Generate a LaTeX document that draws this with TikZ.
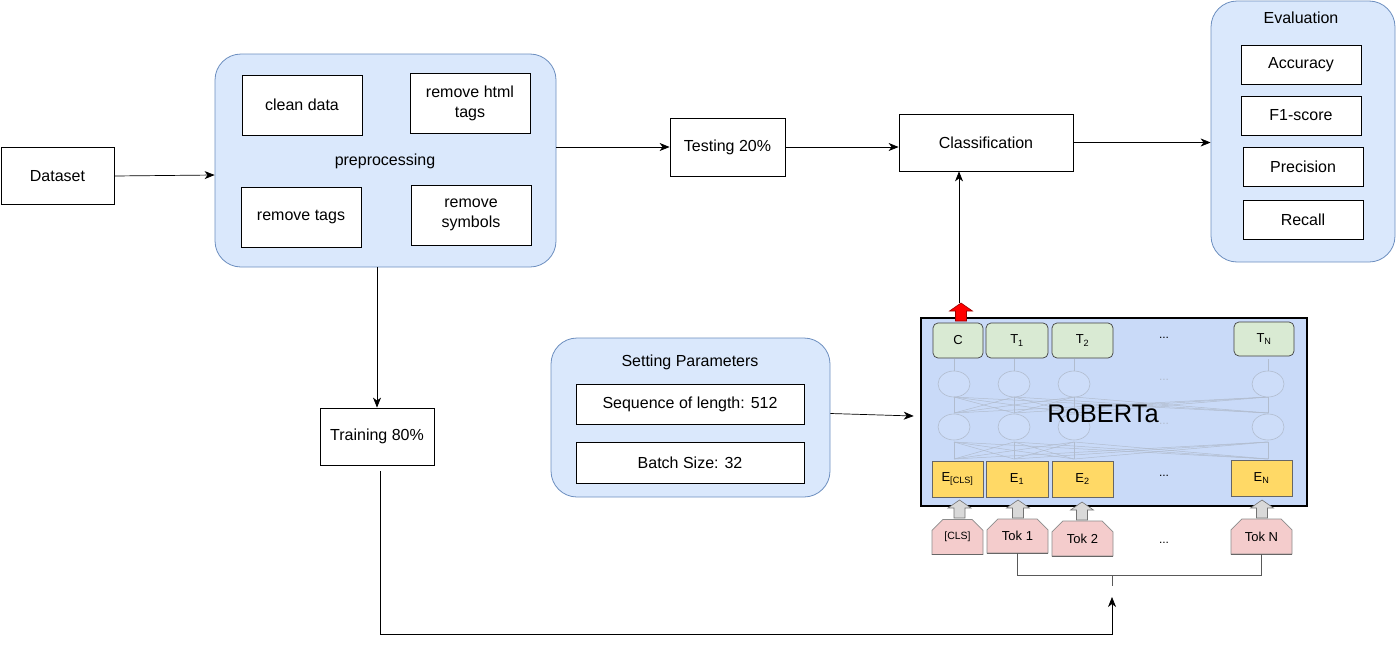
\documentclass[tikz,border=0pt]{standalone}
\usepackage{fontspec}
\setmainfont{Liberation Sans}
\usetikzlibrary{arrows.meta,shapes.misc}

\definecolor{groupfill}{HTML}{DAE8FC}
\definecolor{groupdraw}{HTML}{6C8EBF}
\definecolor{bertfill}{HTML}{C9DAF8}
\definecolor{outfill}{HTML}{D9EAD3}
\definecolor{embfill}{HTML}{FFD966}
\definecolor{tokfill}{HTML}{F4CCCC}
\definecolor{netgray}{HTML}{B1BCCE}

\tikzset{
  box/.style={draw, fill=white, line width=0.8pt, align=center, inner sep=0pt,
    font=\fontsize{16}{20}\selectfont},
  group/.style={draw=groupdraw, fill=groupfill, rounded corners=26pt, line width=0.8pt, inner sep=0pt},
  label/.style={font=\fontsize{16}{20}\selectfont, inner sep=0pt},
  arr/.style={-{Stealth[length=10pt,width=8pt,inset=3pt]}, line width=0.7pt},
  outbox/.style={draw=black!75, fill=outfill, rounded corners=5pt, line width=0.7pt,
    minimum height=35pt, inner sep=0pt, font=\fontsize{13}{15}\selectfont},
  embbox/.style={draw=black!60, fill=embfill, line width=0.7pt,
    minimum height=36pt, inner sep=0pt, font=\fontsize{13}{15}\selectfont},
  tokbox/.style={draw=black!45, fill=tokfill, chamfered rectangle, chamfered rectangle xsep=6pt,
    chamfered rectangle ysep=6pt, chamfered rectangle corners={north west,north east},
    line width=0.7pt, minimum height=35pt, inner sep=0pt, font=\fontsize{13}{15}\selectfont},
  blockup/.pic={
    \filldraw[line width=0.6pt] (-5.5,18) -- (-5.5,8) -- (-11.5,8) -- (0,0) -- (11.5,8) -- (5.5,8) -- (5.5,18) -- cycle;
  }
}

\begin{document}
\begin{tikzpicture}[x=1pt, y=-1pt]
\useasboundingbox (0,0) rectangle (1396,645);

%Input and preprocessing
\node[box, minimum width=113pt, minimum height=57pt] (data) at (57.5,176) {Dataset};
\node[group, minimum width=341pt, minimum height=213pt] (pre) at (385.5,160.5) {};
\node[box, minimum width=120pt, minimum height=60pt] (clean) at (302,105) {clean data};
\node[box, minimum width=120pt, minimum height=60pt] (html) at (470,103) {remove html\\tags};
\node[box, minimum width=120pt, minimum height=60pt] (tags) at (301,217) {remove tags};
\node[box, minimum width=120pt, minimum height=60pt] (symb) at (471,215) {remove\\symbols};
\node[label] (prelabel) at (385,161) {preprocessing};

%Split
\node[box, minimum width=115pt, minimum height=58pt] (test) at (727.5,147) {Testing 20\%};
\node[box, minimum width=114pt, minimum height=57pt] (train) at (377,436.5) {Training 80\%};

%Classification and evaluation
\node[box, minimum width=174pt, minimum height=57pt] (cls) at (986,142.5) {Classification};
\node[group, minimum width=184pt, minimum height=261pt] (eval) at (1303,131.5) {};
\node[label] (evallabel) at (1301,18) {Evaluation};
\node[box, minimum width=120pt, minimum height=39pt] (acc) at (1301,64.5) {Accuracy};
\node[box, minimum width=120pt, minimum height=39pt] (fone) at (1301,115.5) {F1-score};
\node[box, minimum width=120pt, minimum height=39pt] (prec) at (1303,166.5) {Precision};
\node[box, minimum width=120pt, minimum height=39pt] (rec) at (1303,219.5) {Recall};

%Parameters
\node[group, minimum width=279pt, minimum height=159pt] (set) at (690.5,417.5) {};
\node[label] (setlabel) at (690,362) {Setting Parameters};
\node[box, minimum width=228pt, minimum height=40pt] (seq) at (690,404) {Sequence of length: 512};
\node[box, minimum width=228pt, minimum height=41pt] (batch) at (690,462.5) {Batch Size: 32};

%RoBERTa
\node[draw, fill=bertfill, line width=2.6pt, minimum width=386pt, minimum height=188pt, inner sep=0pt] (bert) at (1114,412) {};
\foreach \x in {954,1014,1074,1268}{
  \foreach \xx in {954,1014,1074,1268}{
    \draw[netgray, line width=0.5pt] (\x,459) -- (\xx,442);
    \draw[netgray, line width=0.5pt] (\x,413) -- (\xx,397);
  }
  \draw[netgray, line width=0.5pt] (\x,371) -- (\x,359);
  \draw[netgray, line width=0.6pt, fill=bertfill!92!white] (\x,384) ellipse (16pt and 13pt);
  \draw[netgray, line width=0.6pt, fill=bertfill!92!white] (\x,427) ellipse (16pt and 13pt);
}
\node[text=netgray, font=\fontsize{12}{14}\selectfont] (netdotsa) at (1164,380) {...};
\node[text=netgray, font=\fontsize{12}{14}\selectfont] (netdotsb) at (1164,424) {...};
\node[font=\fontsize{25.5}{30}\selectfont, inner sep=0pt] (bertlabel) at (1103,414) {RoBERTa};

\node[outbox, minimum width=50pt] (oc) at (958,340.5) {C};
\node[outbox, minimum width=62pt] (oone) at (1017,340.5) {T\textsubscript{1}};
\node[outbox, minimum width=61pt] (otwo) at (1082.5,340.5) {T\textsubscript{2}};
\node[font=\fontsize{12}{14}\selectfont] (odots) at (1164,338) {...};
\node[outbox, minimum width=60pt, minimum height=34pt] (on) at (1264,339) {T\textsubscript{N}};

\node[embbox, minimum width=51pt] (ecls) at (957.5,479) {E\textsubscript{[CLS]}};
\node[embbox, minimum width=62pt] (eone) at (1017,479) {E\textsubscript{1}};
\node[embbox, minimum width=61pt] (etwo) at (1082.5,479) {E\textsubscript{2}};
\node[font=\fontsize{12}{14}\selectfont] (edots) at (1164,476) {...};
\node[embbox, minimum width=61pt] (en) at (1261.5,478) {E\textsubscript{N}};

\node[tokbox, minimum width=51pt, font=\fontsize{10.5}{12}\selectfont] (tcls) at (957.5,537) {[CLS]};
\node[tokbox, minimum width=61pt, minimum height=34pt] (tone) at (1017.5,536) {Tok 1};
\node[tokbox, minimum width=61pt] (ttwo) at (1082.5,538.5) {Tok 2};
\node[font=\fontsize{12}{14}\selectfont] (tdots) at (1164,543) {...};
\node[tokbox, minimum width=61pt] (tn) at (1261.5,536.5) {Tok N};
\foreach \t in {tcls,tone,ttwo,tn}
  \draw[black!60, line width=1.2pt] (\t.south west) -- (\t.south east);

\foreach \x/\y in {959.5/500,1018/500,1082/502,1262/500}
  \pic[draw=black!55, fill=black!15] at (\x,\y) {blockup};
\pic[draw=red!60!black, fill=red] at (961,303) {blockup};
\coordinate (redtip) at (959,303);

\draw[black!65, line width=0.7pt] (tone.south) -- ++(0,22) -| (tn.south);
\coordinate (feed) at (1112,597);
\draw[black!65, line width=0.7pt] (1112,575) -- (1112,586);

%Arrows
\draw[arr] (data.east) -- ([yshift=-14.5pt]pre.west);
\draw[arr] (test.west -| pre.east) -- (test.west);
\draw[arr] (pre.south -| train.north) -- (train.north);
\draw[arr] (test.east) -- (test.east -| cls.west);
\draw[arr] (cls.east) -- (cls.east -| eval.west);
\draw[arr] ([yshift=4pt]set.east) -- ([xshift=-6pt,yshift=-4pt]bert.west);
\draw[arr] (redtip) -- (redtip |- cls.south);
\draw[arr] ([xshift=3pt,yshift=-6pt]train.south) -- ++(0,163) -| (feed);

\end{tikzpicture}
\end{document}
